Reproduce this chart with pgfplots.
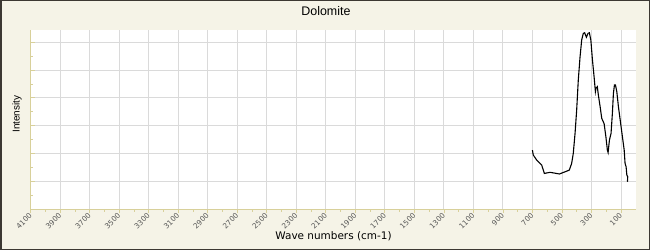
\documentclass[border=0pt]{standalone}
\usepackage{fontspec}
\setmainfont{Liberation Sans}
\newfontfamily\dejavu{DejaVu Sans}
\usepackage{pgfplots}
\pgfplotsset{compat=1.18}
\definecolor{bgc}{HTML}{F5F3E7}
\definecolor{axc}{HTML}{D8D09A}
\definecolor{brd}{HTML}{3C3833}
\definecolor{grd}{HTML}{DADADA}
\definecolor{tlc}{HTML}{555555}
\begin{document}
\begin{tikzpicture}
\fill[bgc] (0,0) rectangle (650bp,250bp);
\begin{axis}[
  at={(30.7bp,41bp)}, anchor=south west,
  scale only axis, width=605bp, height=179bp,
  x dir=reverse, xmin=0, xmax=4100, ymin=0, ymax=6.44,
  axis x line=bottom, axis y line=left,
  axis line style={axc, line width=0.8bp, -},
  axis background/.style={fill=white},
  xtick={100,300,...,4100}, minor x tick num=1,
  ytick={0,1,...,6}, yticklabels={}, minor y tick num=1,
  tick align=outside,
  major tick length=4bp, minor tick length=2.7bp,
  every tick/.style={axc, line width=0.7bp},
  every major y tick/.append style={xshift=4bp},
  every minor y tick/.append style={xshift=2.7bp},
  xmajorgrids, ymajorgrids,
  major grid style={grd, line width=0.8bp},
  /pgf/number format/assume math mode=true,
  /pgf/number format/1000 sep={},
  xticklabel style={rotate=45, anchor=east, font=\dejavu\fontsize{7.3}{8}\selectfont, text=tlc, inner sep=1bp, yshift=-1bp},
  title={Dolomite},
  title style={at={(axis description cs:0.488,1.106)}, anchor=center, yshift=-6pt, inner sep=0pt, font=\fontsize{12.5}{14}\selectfont},
  xlabel={Wave numbers (cm-1)},
  xlabel style={at={(axis description cs:0.5005,-0.151)}, anchor=center, font=\dejavu\fontsize{10.5}{12}\selectfont},
  ylabel={Intensity},
  ylabel style={at={(axis description cs:-0.0226,0.53)}, anchor=center, font=\fontsize{10}{12}\selectfont},
]
\addplot[black, line width=1.1bp] coordinates {
(700,2.12) (694,1.94) (671,1.76) (637,1.58) (626,1.40) (619,1.28)
(580,1.32) (517,1.26) (478,1.34) (450,1.40) (434,1.64) (423,2.00)
(411,2.72) (400,3.56) (389,4.64) (377,5.48) (366,6.08) (355,6.32)
(346,6.34) (334,6.18) (323,6.32) (314,6.34) (304,6.08) (293,5.36)
(282,4.76) (273,4.22) (269,4.34) (260,4.40) (253,4.10) (241,3.68)
(230,3.26) (214,3.07) (202,2.60) (192,2.12) (187,2.03) (178,2.48)
(167,2.72) (158,3.44) (151,4.16) (144,4.46) (137,4.46) (128,4.22)
(117,3.68) (105,3.20) (90,2.60) (78,2.12) (72,1.64) (65,1.52)
(60,1.22) (54,1.16) (56,0.98)
};
\end{axis}
\draw[brd,line width=1.5bp] (0.75bp,0.75bp) rectangle (649.25bp,249.25bp);
\pgfresetboundingbox
\useasboundingbox (0,0) rectangle (650bp,250bp);
\end{tikzpicture}
\end{document}
